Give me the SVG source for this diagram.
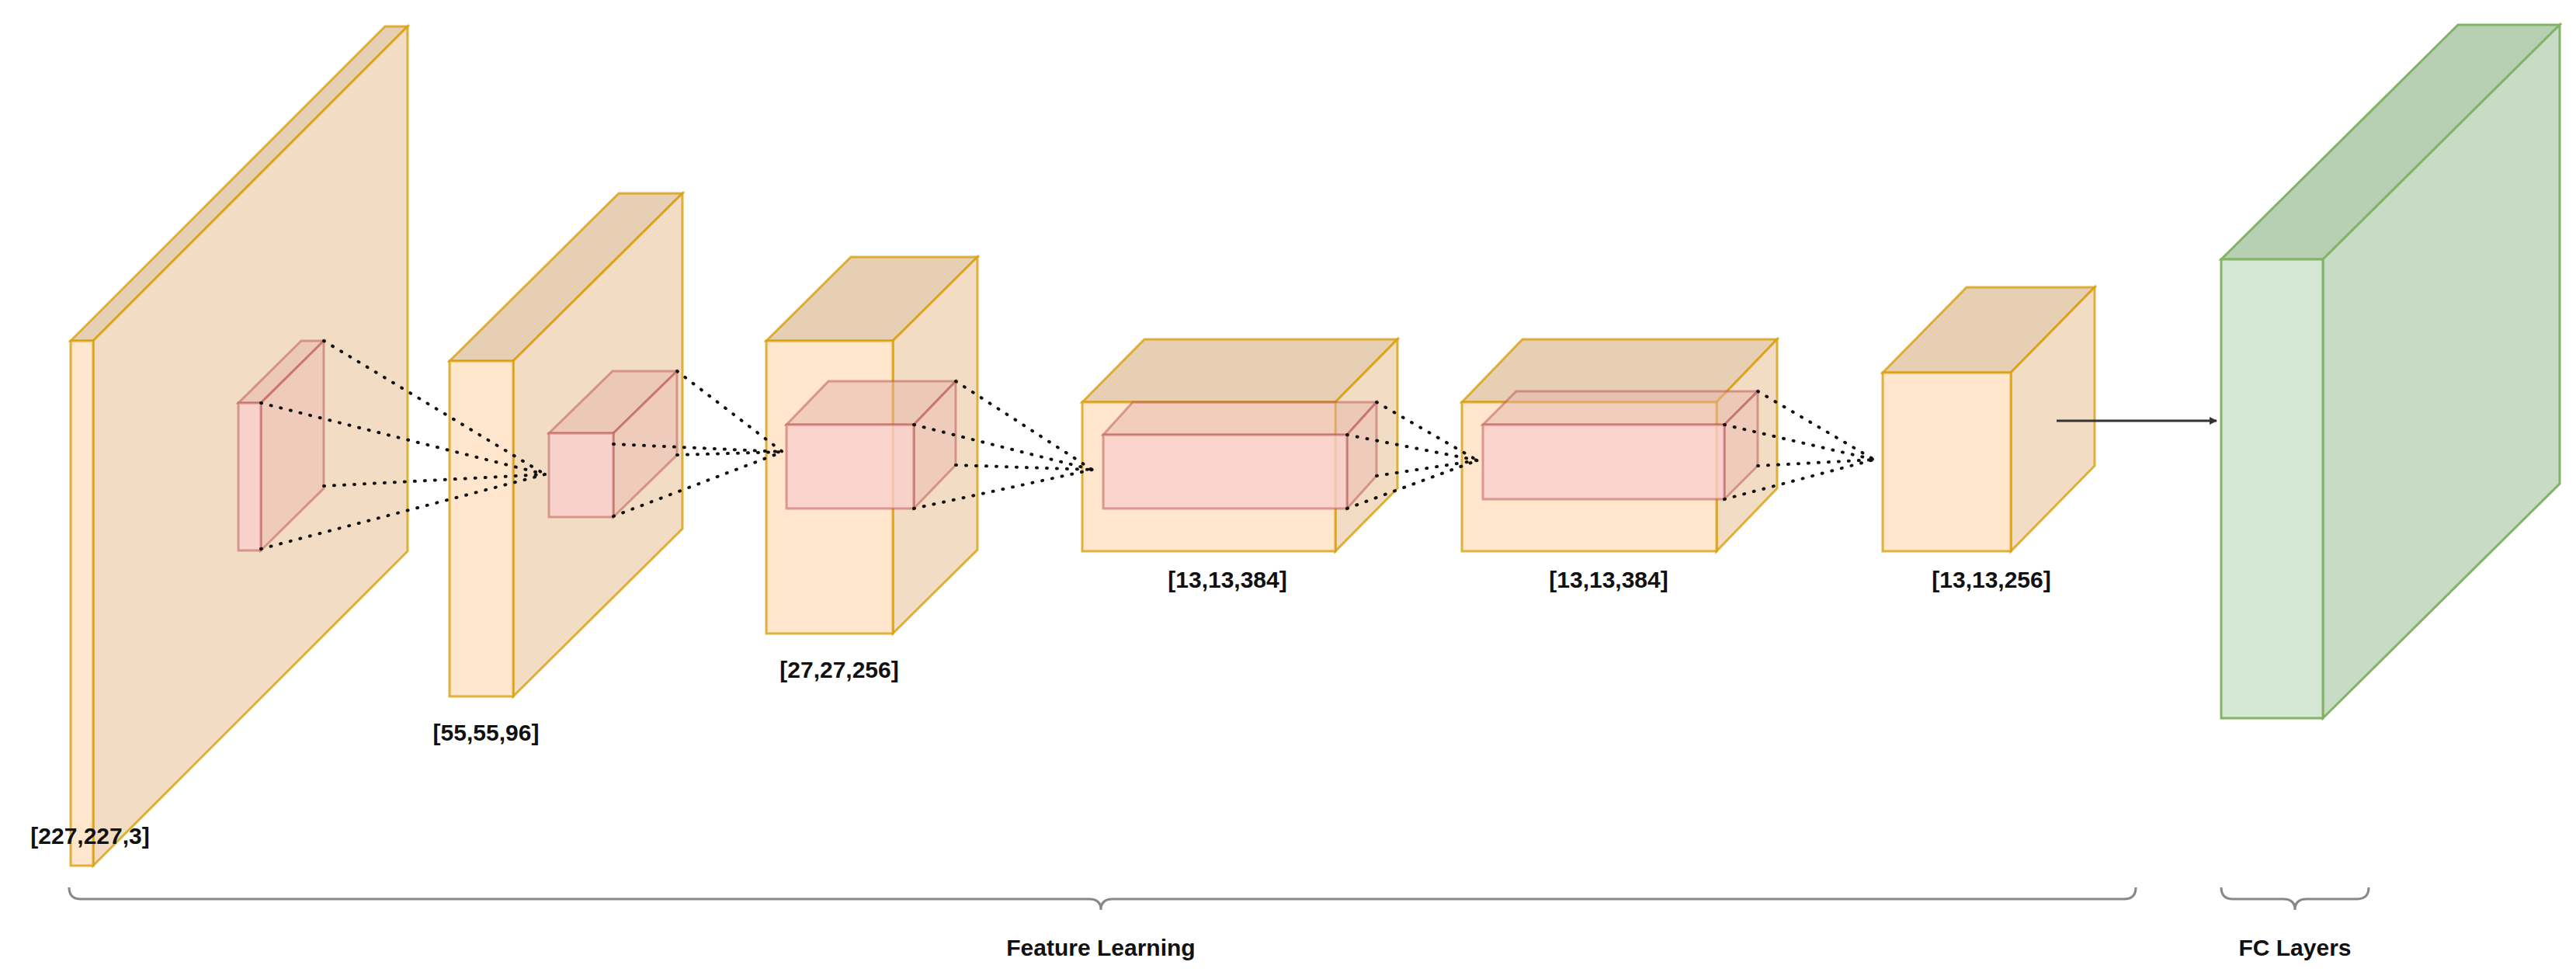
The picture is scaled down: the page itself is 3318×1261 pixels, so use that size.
<svg xmlns="http://www.w3.org/2000/svg" width="3318" height="1261" viewBox="0 0 3318 1261">
<style>
.f{fill:#ffe6cc;stroke:#d79b00;stroke-width:3;stroke-opacity:.75}
.t{fill:#e6cfb3;stroke:#d79b00;stroke-width:3;stroke-opacity:.75}
.s{fill:#f2dcc3;stroke:#d79b00;stroke-width:3;stroke-opacity:.75}
.kf{fill:#f8cecc;fill-opacity:.8;stroke:#b85450;stroke-width:3;stroke-opacity:.5}
.kt{fill:#e6b3ac;fill-opacity:.5;stroke:#b85450;stroke-width:3;stroke-opacity:.5}
.ks{fill:#eab9b2;fill-opacity:.5;stroke:#b85450;stroke-width:3;stroke-opacity:.5}
.gf{fill:#d5e8d4;stroke:#82b366;stroke-width:3}
.gt{fill:#b7cfb3;stroke:#82b366;stroke-width:3}
.gs{fill:#c8dcc5;stroke:#82b366;stroke-width:3}
.d{stroke:#111;stroke-width:4;stroke-dasharray:1 12;stroke-linecap:round;fill:none}
text{font-family:"Liberation Sans",Arial,sans-serif;font-weight:bold;font-size:30px;fill:#111;text-anchor:middle}
.b{fill:none;stroke:#888;stroke-width:3}
</style>
<defs><marker id="ah" markerWidth="10" markerHeight="10" refX="9" refY="5" orient="auto" markerUnits="userSpaceOnUse" viewBox="0 0 10 10"><path d="M0,0 L10,5 L0,10 z" fill="#333"/></marker></defs>
<g id="layer1"><polygon class="t" points="91,439 496,34 525,34 120,439"/><polygon class="s" points="120,439 525,34 525,710 120,1115"/><rect class="f" x="91" y="439" width="29" height="676"/>
<polygon class="kt" points="307,519 388,439 417,439 336,519"/><polygon class="ks" points="336,519 417,439 417,629 336,709"/><rect class="kf" x="307" y="519" width="29" height="190"/></g>
<g id="layer2"><polygon class="t" points="579,465 797,249 879,249 661,465"/><polygon class="s" points="661,465 879,249 879,681 661,897"/><rect class="f" x="579" y="465" width="82" height="432"/>
<polygon class="kt" points="707,558 789,478 872,478 790,558"/><polygon class="ks" points="790,558 872,478 872,586 790,666"/><rect class="kf" x="707" y="558" width="83" height="108"/></g>
<g id="layer3"><polygon class="t" points="987,439 1096,331 1259,331 1150,439"/><polygon class="s" points="1150,439 1259,331 1259,708 1150,816"/><rect class="f" x="987" y="439" width="163" height="377"/>
<polygon class="kt" points="1013,547 1067,491 1231,491 1177,547"/><polygon class="ks" points="1177,547 1231,491 1231,599 1177,655"/><rect class="kf" x="1013" y="547" width="164" height="108"/></g>
<g id="layer4"><polygon class="t" points="1394,518 1474,437 1800,437 1720,518"/><polygon class="s" points="1720,518 1800,437 1800,629 1720,710"/><rect class="f" x="1394" y="518" width="326" height="192"/>
<polygon class="kt" points="1421,560 1459,518 1773,518 1735,560"/><polygon class="ks" points="1735,560 1773,518 1773,613 1735,655"/><rect class="kf" x="1421" y="560" width="314" height="95"/></g>
<g id="layer5"><polygon class="t" points="1883,518 1961,437 2289,437 2211,518"/><polygon class="s" points="2211,518 2289,437 2289,629 2211,710"/><rect class="f" x="1883" y="518" width="328" height="192"/>
<polygon class="kt" points="1910,547 1953,504 2264,504 2221,547"/><polygon class="ks" points="2221,547 2264,504 2264,600 2221,643"/><rect class="kf" x="1910" y="547" width="311" height="96"/></g>
<g id="layer6"><polygon class="t" points="2425,480 2533,370 2698,370 2590,480"/><polygon class="s" points="2590,480 2698,370 2698,600 2590,710"/><rect class="f" x="2425" y="480" width="165" height="230"/></g>
<g id="fc"><polygon class="gt" points="2861,334 3166,32 3297,32 2992,334"/><polygon class="gs" points="2992,334 3297,32 3297,623 2992,925"/><rect class="gf" x="2861" y="334" width="131" height="591"/></g>
<g id="connectors">
<path class="d" d="M417,439L702,611M336,519L702,611M417,626L702,611M336,707L702,611"/>
<path class="d" d="M872,478L1008,582M790,572L1008,582M872,586L1008,582M790,665L1008,582"/>
<path class="d" d="M1231,491L1407,605M1177,547L1407,605M1231,599L1407,605M1177,655L1407,605"/>
<path class="d" d="M1773,518L1903,593M1735,560L1903,593M1773,613L1903,593M1735,655L1903,593"/>
<path class="d" d="M2264,504L2414,592M2221,547L2414,592M2264,600L2414,592M2221,643L2414,592"/>
<line x1="2649" y1="542" x2="2855" y2="542" stroke="#333" stroke-width="3" marker-end="url(#ah)"/>
<path class="b" d="M89,1143 Q89,1158 104,1158 H1403 Q1418,1158 1418,1172 Q1418,1158 1433,1158 H2736 Q2751,1158 2751,1143"/>
<path class="b" d="M2861,1143 Q2861,1158 2876,1158 H2941 Q2956,1158 2956,1172 Q2956,1158 2971,1158 H3036 Q3051,1158 3051,1143"/>
</g>
<g id="labels">
<text x="116" y="1087">[227,227,3]</text>
<text x="626" y="954">[55,55,96]</text>
<text x="1081" y="873">[27,27,256]</text>
<text x="1581" y="757">[13,13,384]</text>
<text x="2072" y="757">[13,13,384]</text>
<text x="2565" y="757">[13,13,256]</text>
<text x="1418" y="1231">Feature Learning</text>
<text x="2956" y="1231">FC Layers</text>
</g>
</svg>
